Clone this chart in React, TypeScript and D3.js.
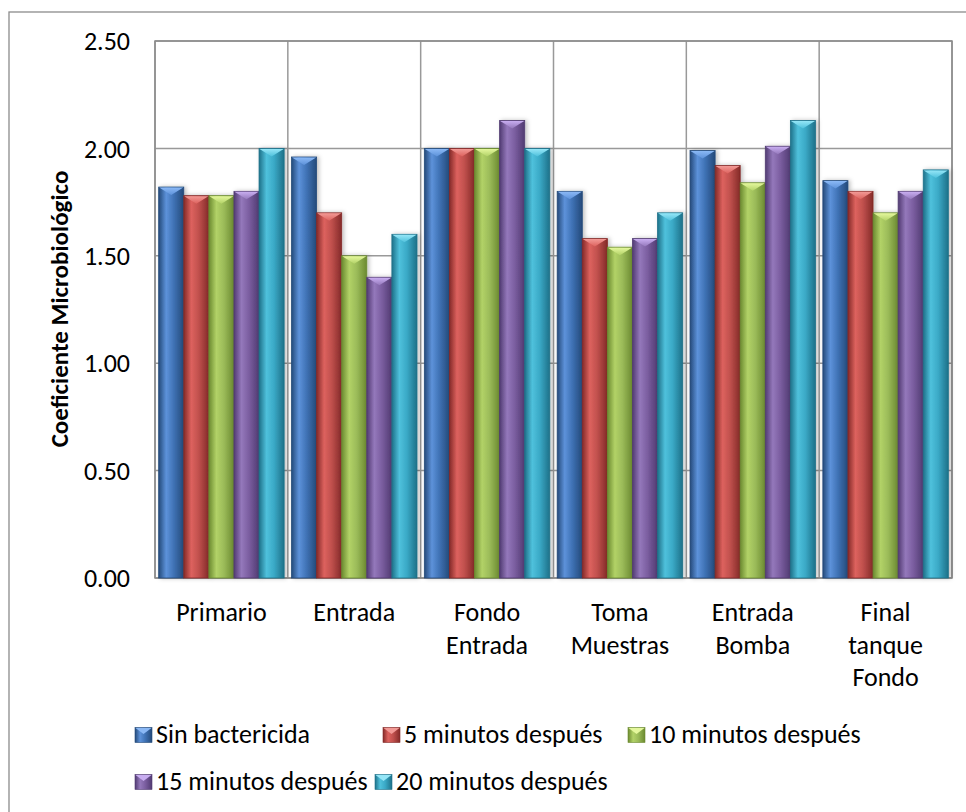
import React from "react";
import * as d3 from "d3";

const categories: string[][] = [
  ["Primario"],
  ["Entrada"],
  ["Fondo", "Entrada"],
  ["Toma", "Muestras"],
  ["Entrada", "Bomba"],
  ["Final", "tanque", "Fondo"],
];
const seriesNames = [
  "Sin bactericida",
  "5 minutos después",
  "10 minutos después",
  "15 minutos después",
  "20 minutos después",
];
const sinBactericida = [1.82, 1.96, 2.0, 1.8, 1.99, 1.85];
const min5 = [1.78, 1.7, 2.0, 1.58, 1.92, 1.8];
const min10 = [1.78, 1.5, 2.0, 1.54, 1.84, 1.7];
const min15 = [1.8, 1.4, 2.13, 1.58, 2.01, 1.8];
const min20 = [2.0, 1.6, 2.0, 1.7, 2.13, 1.9];
const seriesValues = [sinBactericida, min5, min10, min15, min20];
const yTicks = [0, 0.5, 1.0, 1.5, 2.0, 2.5];

const colors = [
  { base: "#3f72b5", dark: "#244a7a", light: "#5d92da", cap: "#8ab8f5" },
  { base: "#c0504d", dark: "#842a28", light: "#dd625e", cap: "#f29995" },
  { base: "#9bbb59", dark: "#6b8a30", light: "#b2d267", cap: "#e4f79c" },
  { base: "#7b5ea0", dark: "#513b72", light: "#9478bb", cap: "#c8adf0" },
  { base: "#3aa9c6", dark: "#1e7189", light: "#4fc1dc", cap: "#95e6f7" },
];

const FONT = "Carlito, Calibri, Lato, 'Open Sans', sans-serif";

export default function App() {
  const left = 155, right = 952, top = 41, bottom = 578;
  const x0 = d3.scaleBand<number>().domain(d3.range(categories.length)).range([left, right]).paddingInner(0).paddingOuter(0);
  const x1 = d3.scaleBand<number>().domain(d3.range(seriesNames.length)).range([0, x0.bandwidth()]).paddingOuter(0.147).paddingInner(0);
  const y = d3.scaleLinear().domain([0, 2.5]).range([bottom, top]);
  const bw = x1.bandwidth();

  const legendPos = [
    { x: 135, y: 735 },
    { x: 383, y: 735 },
    { x: 628, y: 735 },
    { x: 135, y: 782 },
    { x: 375, y: 782 },
  ];

  return (
    <svg width={966} height={812} style={{ position: "absolute", left: 0, top: 0, background: "#fff" }} fontFamily={FONT}>
      <defs>
        {colors.map((c, i) => (
          <linearGradient key={i} id={`g${i}`} x1="0" x2="1" y1="0" y2="0">
            <stop offset="0" stopColor={c.dark} />
            <stop offset="0.3" stopColor={c.light} />
            <stop offset="0.6" stopColor={c.base} />
            <stop offset="1" stopColor={c.dark} />
          </linearGradient>
        ))}
        {colors.map((c, i) => (
          <linearGradient key={"c" + i} id={`cap${i}`} x1="0" x2="0" y1="0" y2="1">
            <stop offset="0" stopColor={c.cap} />
            <stop offset="1" stopColor={c.light} />
          </linearGradient>
        ))}
        <filter id="sh" x="-30%" y="-10%" width="160%" height="120%">
          <feDropShadow dx="2" dy="0" stdDeviation="2" floodColor="#000" floodOpacity="0.25" />
        </filter>
      </defs>
      <rect x={9} y={12} width={1000} height={1000} fill="#fff" stroke="#8c8c8c" strokeWidth={1.3} />
      {yTicks.map((t) => (
        <line key={t} x1={left} x2={right} y1={y(t)} y2={y(t)} stroke="#999" strokeWidth={1.5} />
      ))}
      {d3.range(categories.length + 1).map((i) => {
        const xv = i < categories.length ? (x0(i) as number) : right;
        return <line key={i} x1={xv} x2={xv} y1={top} y2={bottom} stroke="#999" strokeWidth={1.5} />;
      })}
      <rect x={left} y={top} width={right - left} height={bottom - top} fill="none" stroke="#8c8c8c" strokeWidth={1.5} />
      {categories.map((_, ci) =>
        seriesValues.map((vals, si) => {
          const bx = (x0(ci) as number) + (x1(si) as number);
          const by = y(vals[ci]);
          const h = bottom - by;
          return (
            <g key={`${ci}-${si}`}>
              <rect x={bx} y={by} width={bw} height={h} fill={`url(#g${si})`} stroke={colors[si].dark} strokeWidth={0.8} filter="url(#sh)" />
              <path d={`M${bx + 0.5},${by + 0.5} L${bx + bw - 0.5},${by + 0.5} L${bx + bw / 2},${by + 8} Z`} fill={`url(#cap${si})`} />
            </g>
          );
        })
      )}
      {yTicks.map((t) => (
        <text key={t} x={130} y={y(t)} dy="0.35em" textAnchor="end" fontSize={26} fill="#000">
          {t.toFixed(2)}
        </text>
      ))}
      <text transform={`translate(68,309) rotate(-90)`} textAnchor="middle" fontSize={25} fontWeight="bold" fill="#000">
        Coeficiente Microbiológico
      </text>
      {categories.map((lines, ci) => {
        const cx = (x0(ci) as number) + x0.bandwidth() / 2;
        return (
          <text key={ci} x={cx} y={621} textAnchor="middle" fontSize={26} fill="#000">
            {lines.map((l, li) => (
              <tspan key={li} x={cx} dy={li === 0 ? 0 : 32.5}>
                {l}
              </tspan>
            ))}
          </text>
        );
      })}
      {seriesNames.map((name, si) => {
        const { x: lx, y: cy } = legendPos[si];
        return (
          <g key={si}>
            <rect x={lx} y={cy - 7.5} width={17} height={15} fill={`url(#g${si})`} stroke={colors[si].dark} strokeWidth={0.6} />
            <path d={`M${lx + 0.5},${cy - 7} L${lx + 16.5},${cy - 7} L${lx + 8.5},${cy - 1} Z`} fill={colors[si].cap} />
            <text x={lx + 21} y={cy + 7.5} fontSize={26} fill="#000">
              {name}
            </text>
          </g>
        );
      })}
    </svg>
  );
}
